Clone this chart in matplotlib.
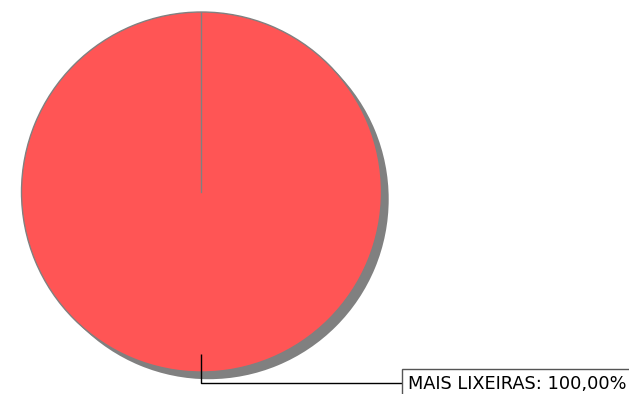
import matplotlib.pyplot as plt
import numpy as np

labels = ["MAIS LIXEIRAS"]
values = [100.0]
colors = ["#FF5555"]


def main():
    fig = plt.figure(figsize=(6.29, 3.94), dpi=100)
    W, H = 629, 394
    # pie box: 21..382 px wide, 12..372 px tall
    ax = fig.add_axes([21 / W, (H - 372) / H, 361 / W, 360 / H])

    # drop shadow
    ax.pie(values, colors=["#808080"], startangle=90, counterclock=False,
           center=(0.04, -0.04), radius=1, frame=True)
    wedges, _ = ax.pie(values, colors=colors, startangle=90, counterclock=False,
                       radius=1, frame=True,
                       wedgeprops=dict(edgecolor="#808080", linewidth=1))
    ax.set_xlim(-1, 1)
    ax.set_ylim(-1, 1)
    ax.axis("off")

    total = sum(values)
    for w, lab, v in zip(wedges, labels, values):
        # radial edge of the slice
        t1 = np.deg2rad(w.theta2)
        ax.plot([0, np.cos(t1)], [0, np.sin(t1)], color="#808080", lw=1)

        mid = np.deg2rad((w.theta1 + w.theta2) / 2)
        x0, y0 = 0.9 * np.cos(mid), 0.9 * np.sin(mid)
        y1 = -1.06
        x1 = 1.12
        ax.plot([x0, x0, x1], [y0, y1, y1], color="black", lw=1,
                clip_on=False, solid_capstyle="butt")
        txt = lab + ": " + ("%.2f" % (v / total * 100)).replace(".", ",") + "%"
        fig.text(408 / W, (H - 389) / H, txt, fontsize=12.8, color="black",
                 ha="left", va="baseline",
                 bbox=dict(boxstyle="square,pad=0.33", facecolor="white",
                           edgecolor="#555555", linewidth=1))

    fig.savefig("out.png", dpi=100)


if __name__ == "__main__":
    main()
